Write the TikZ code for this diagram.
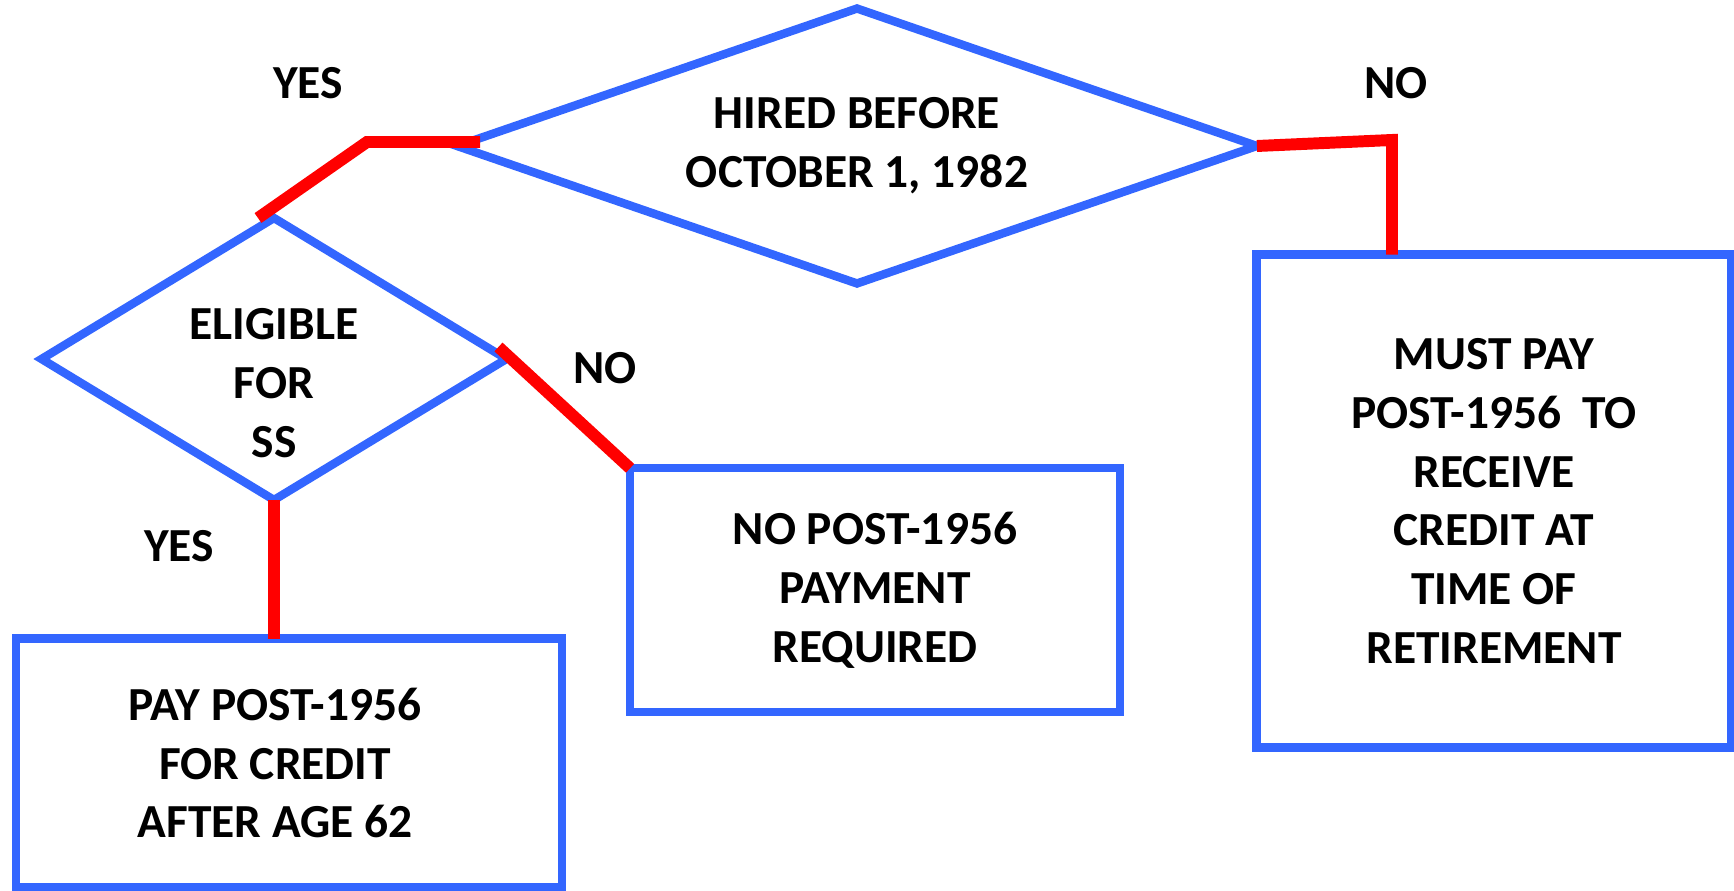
\documentclass[tikz,border=0pt]{standalone}
\usepackage{fontspec}
\setmainfont{Carlito}
\usetikzlibrary{shapes.geometric,positioning}
\definecolor{flowblue}{RGB}{51,102,255}
\definecolor{flowred}{RGB}{255,0,0}

\begin{document}
\begin{tikzpicture}[x=0.02cm,y=-0.02cm,
    every node/.style={font=\fontsize{27}{33.5}\selectfont\bfseries,align=center},
    decision/.style={draw=flowblue,line width=4.8pt,diamond,inner sep=0pt,outer sep=0pt},
    outcome/.style={draw=flowblue,line width=4.8pt,rectangle,inner sep=0pt,outer sep=0pt},
    yesno/.style={draw=flowred,line width=6.8pt}]
                \useasboundingbox (0,0) rectangle (1734,891);

                \node[decision,aspect=2.9,minimum width=16cm,minimum height=5.5cm] at (857,146) (hired) {HIRED BEFORE\\OCTOBER 1, 1982};
                \node[decision,aspect=1.65,minimum width=9.3cm,minimum height=5.64cm,
                      label={[yshift=-0.48cm,align=center]center:ELIGIBLE\\FOR\\SS}] at (274,359) (elig) {};
                \node[outcome,minimum width=10.92cm,minimum height=4.98cm,
                      label={[xshift=-0.28cm,align=center]center:PAY POST-1956\\FOR CREDIT\\AFTER AGE 62}] at (289,763) (payafter) {};
                \node[outcome,minimum width=9.8cm,minimum height=4.87cm] at (875,590) (nopay) {NO POST-1956\\PAYMENT\\REQUIRED};
                \node[outcome,minimum width=9.5cm,minimum height=9.86cm] at (1494,501) (mustpay) {MUST PAY\\POST-1956~ TO\\RECEIVE\\CREDIT AT\\TIME OF\\RETIREMENT};

                \coordinate (yesbend) at (367,142);
                \coordinate[left=0.32cm of elig.north] (yesfoot);
                \coordinate (nobend) at (1392,140);

                \draw[yesno] ([shift={(23,-4)}]hired.west) -- (yesbend) -- (yesfoot);
                \draw[yesno] (hired.east) -- (nobend) -- (nobend |- mustpay.north);
                \draw[yesno] ([shift={(-8,-12)}]elig.east) -- (nopay.north west);
                \draw[yesno] (elig.south) -- (elig.south |- payafter.north);

                \node at (308,83) (yestop) {YES};
                \node at (1396,83) (notop) {NO};
                \node at (605,368) (noelig) {NO};
                \node at (179,546) (yeselig) {YES};
            \end{tikzpicture}
\end{document}
